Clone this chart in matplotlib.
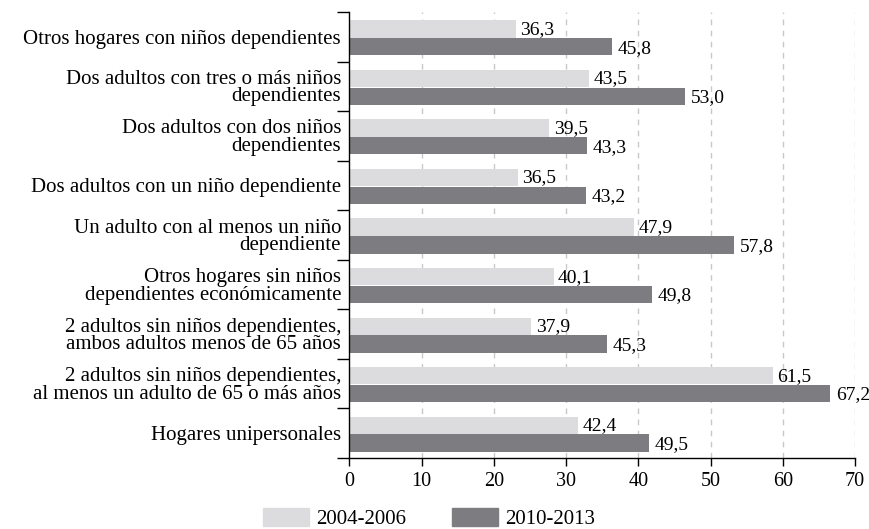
import matplotlib
matplotlib.use("Agg")
import matplotlib.pyplot as plt
import numpy as np
from matplotlib.patches import Patch

categories = [
    "Otros hogares con niños dependientes",
    "Dos adultos con tres o más niños\ndependientes",
    "Dos adultos con dos niños\ndependientes",
    "Dos adultos con un niño dependiente",
    "Un adulto con al menos un niño\ndependiente",
    "Otros hogares sin niños\ndependientes económicamente",
    "2 adultos sin niños dependientes,\nambos adultos menos de 65 años",
    "2 adultos sin niños dependientes,\nal menos un adulto de 65 o más años",
    "Hogares unipersonales",
]
# bar lengths as drawn in the picture
bars_2004 = [23.0, 33.2, 27.7, 23.3, 39.4, 28.3, 25.2, 58.6, 31.7]
bars_2010 = [36.3, 46.5, 32.9, 32.7, 53.3, 41.9, 35.7, 66.6, 41.5]
# printed values
labels_2004 = ["36,3", "43,5", "39,5", "36,5", "47,9", "40,1", "37,9", "61,5", "42,4"]
labels_2010 = ["45,8", "53,0", "43,3", "43,2", "57,8", "49,8", "45,3", "67,2", "49,5"]
series = ["2004-2006", "2010-2013"]

light = "#dcdcde"
dark = "#7d7d81"

plt.rcParams["font.family"] = ["Liberation Serif", "DejaVu Serif"]

fig = plt.figure(figsize=(8.7, 5.29), dpi=100)
ax = fig.add_axes([0.4016, 0.1342, 0.5812, 0.8431])

y = np.arange(len(categories))
h = 0.35
ax.barh(y - 0.16, bars_2004, height=h, color=light, zorder=2)
ax.barh(y + 0.20, bars_2010, height=h, color=dark, zorder=2)

for i in range(len(categories)):
    ax.annotate(labels_2004[i], (bars_2004[i], y[i] - 0.15), xytext=(3, 0),
                textcoords="offset points", va="center", ha="left", fontsize=14)
    ax.annotate(labels_2010[i], (bars_2010[i], y[i] + 0.23), xytext=(4, 0),
                textcoords="offset points", va="center", ha="left", fontsize=14)

ax.set_xlim(0, 70)
ax.set_ylim(len(categories) - 0.5, -0.5)
ax.set_xticks(np.arange(0, 71, 10))
ax.tick_params(axis="x", labelsize=14.5, length=6, width=1, direction="out", pad=4)
ax.set_yticks(y)
ax.set_yticklabels(categories, fontsize=15, linespacing=0.9)
ax.tick_params(axis="y", which="major", length=0, pad=6)
ax.set_yticks(np.arange(-0.5, len(categories), 1), minor=True)
ax.tick_params(axis="y", which="minor", length=9, width=1)

for v in range(10, 71, 10):
    ax.axvline(v, color="#c8c8c8", lw=1, ls=(0, (4, 4)), zorder=1)

for s in ["top", "right"]:
    ax.spines[s].set_visible(False)
ax.spines["left"].set_linewidth(1)
ax.spines["bottom"].set_linewidth(1)

handles = [Patch(color=light), Patch(color=dark)]
fig.legend(handles, series, loc="center", bbox_to_anchor=(429 / 870, 0.02),
           ncol=2, frameon=False, fontsize=15, handlelength=2.2,
           handleheight=1.0, handletextpad=0.35, columnspacing=2.2,
           borderpad=0)

fig.savefig("out.png", dpi=100)
